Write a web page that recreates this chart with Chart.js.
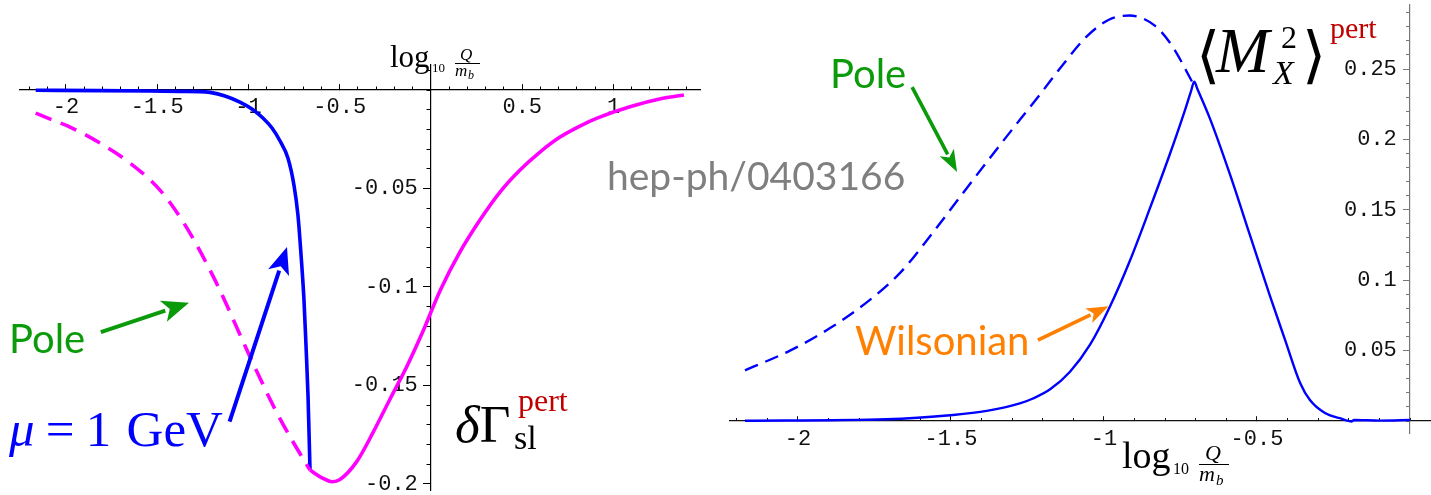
<!DOCTYPE html>
<html><head><meta charset="utf-8">
<script src="https://cdn.jsdelivr.net/npm/chart.js@4.4.1/dist/chart.umd.min.js"></script>
<style>
html,body{margin:0;padding:0;background:#fff;width:1431px;height:495px;overflow:hidden;position:relative}
#lw{position:absolute;left:0;top:0;width:715px;height:495px}
#rw{position:absolute;left:715px;top:0;width:716px;height:495px}
.lab{position:absolute;white-space:nowrap;line-height:1;margin:0;padding:0}
.bl{display:inline-block;width:0;height:0}
.bar{position:absolute;height:0;border-top:1.4px solid #000}
</style></head>
<body>
<div id="lw"><canvas id="cl" width="715" height="495"></canvas></div>
<div id="rw"><canvas id="cr" width="716" height="495"></canvas></div>
<script>
// ---------- data: left panel (delta Gamma_sl^pert vs log10 Q/m_b) ----------
const leftMuX = [-2.166, -1.814, -1.540, -1.375, -1.266, -1.211, -1.129, -1.047, -0.981, -0.921, -0.871, -0.827, -0.784, -0.751, -0.729, -0.712, -0.696, -0.685, -0.674, -0.668, -0.663];
const leftMuY = [-0.00015, -0.0003, -0.0005, -0.0007, -0.0008, -0.0012, -0.003, -0.0061, -0.0096, -0.0142, -0.0193, -0.0259, -0.0345, -0.0482, -0.0635, -0.0838, -0.1066, -0.1294, -0.1548, -0.1751, -0.1929];
const leftPoleX = [-2.166, -2.086, -1.978, -1.814, -1.649, -1.485, -1.348, -1.184, -0.992, -0.855, -0.762, -0.663];
const leftPoleY = [-0.0117, -0.0148, -0.0188, -0.0269, -0.0371, -0.0508, -0.0685, -0.0964, -0.1354, -0.162, -0.1777, -0.193];
const leftTailX = [-0.663, -0.600, -0.540, -0.499, -0.407, -0.318, -0.225, -0.133, -0.044, 0.049, 0.159, 0.268, 0.378, 0.488, 0.597, 0.707, 0.816, 0.910, 1.090, 1.271, 1.386];
const leftTailY = [-0.193, -0.1968, -0.1989, -0.1978, -0.1887, -0.174, -0.157, -0.1405, -0.1225, -0.1020, -0.0822, -0.0660, -0.0518, -0.0406, -0.0315, -0.0239, -0.0183, -0.0143, -0.0085, -0.0042, -0.0025];
const leftXTicks = [-2, -1.5, -1, -0.5, 0.5, 1];
const leftYTicks = [-0.05, -0.1, -0.15, -0.2];

// ---------- data: right panel (<M_X^2>^pert vs log10 Q/m_b) ----------
const rightPoleX = [-2.173, -2.026, -1.895, -1.765, -1.667, -1.569, -1.471, -1.340, -1.271, -1.209, -1.131, -1.057, -0.984, -0.917, -0.835, -0.776, -0.712];
const rightPoleY = [0.036, 0.050, 0.066, 0.086, 0.105, 0.131, 0.159, 0.196, 0.215, 0.232, 0.254, 0.273, 0.285, 0.288, 0.281, 0.266, 0.241];
const rightWilX = [-2.173, -1.711, -1.493, -1.383, -1.275, -1.232, -1.176, -1.111, -1.046, -0.980, -0.915, -0.850, -0.784, -0.735, -0.716, -0.705, -0.695, -0.654, -0.588, -0.523, -0.458, -0.408, -0.359, -0.327, -0.278, -0.229, -0.190, -0.183, -0.098, 0];
const rightWilY = [0.0002, 0.0012, 0.0043, 0.0072, 0.0125, 0.0160, 0.0225, 0.035, 0.054, 0.0815, 0.114, 0.151, 0.190, 0.221, 0.234, 0.241, 0.236, 0.215, 0.175, 0.132, 0.089, 0.0575, 0.027, 0.0149, 0.0057, 0.002, -0.0003, 0.0007, 0.0003, 0.0007];
const rightXTicks = [-2, -1.5, -1, -0.5];
const rightYTicks = [0.05, 0.1, 0.15, 0.2, 0.25];

// minor tick positions (every 0.1 on x, every 0.01 on y)
function steps(a, b, n) { const out = []; for (let i = a; i <= b; i++) out.push(i / n); return out; }
const leftXMinor = steps(-22, 14, 10);
const leftYMinor = steps(-20, 1, 100);
const rightXMinor = steps(-22, 0, 10);
const rightYMinor = steps(0, 29, 100);

const pts = (xs, ys) => xs.map((x, i) => ({x, y: ys[i]}));
const fmtX = v => String(Math.round(v * 100) / 100);
const fmtY = v => String(Math.round(v * 100) / 100) + ' ';
const tickFont = {family: '"Liberation Mono","DejaVu Sans Mono",monospace', size: 22};
const zeroPad = s => { s.paddingLeft = 0; s.paddingRight = 0; s.paddingTop = 0; s.paddingBottom = 0; };
const setTicks = arr => s => { s.ticks = arr.map(v => ({value: v})); };

function scale(min, max, pos, ticks, major, len, pad, axisColor, labels, fmt) {
  return {
    type: 'linear', min, max, position: pos,
    border: {display: major, color: axisColor, width: 1.2},
    grid: {display: true, drawOnChartArea: false, drawTicks: true, tickLength: len, color: axisColor, lineWidth: 1},
    ticks: {display: labels, autoSkip: false, maxRotation: 0, minRotation: 0, padding: pad, font: tickFont, color: '#111', callback: fmt || fmtX, maxTicksLimit: 1000},
    afterBuildTicks: setTicks(ticks), afterFit: zeroPad
  };
}

const arrowPlugin = {
  id: 'arrows',
  afterDatasetsDraw(chart, args, opts) {
    const {ctx} = chart; const sx = chart.scales.x, sy = chart.scales.y;
    (opts.list || []).forEach(a => {
      const x1 = sx.getPixelForValue(a.from[0]), y1 = sy.getPixelForValue(a.from[1]);
      const x2 = sx.getPixelForValue(a.to[0]), y2 = sy.getPixelForValue(a.to[1]);
      const ang = Math.atan2(y2 - y1, x2 - x1), c = Math.cos(ang), s = Math.sin(ang);
      const bx = x2 - a.head * c, by = y2 - a.head * s;
      ctx.save();
      ctx.strokeStyle = a.color; ctx.fillStyle = a.color; ctx.lineWidth = a.width; ctx.lineCap = 'butt';
      ctx.beginPath(); ctx.moveTo(x1, y1); ctx.lineTo(bx + 2 * c, by + 2 * s); ctx.stroke();
      ctx.beginPath(); ctx.moveTo(x2, y2);
      ctx.lineTo(bx - a.hw * s, by + a.hw * c);
      ctx.lineTo(bx + 0.25 * a.head * c, by + 0.25 * a.head * s);
      ctx.lineTo(bx + a.hw * s, by - a.hw * c);
      ctx.closePath(); ctx.fill();
      ctx.restore();
    });
  }
};

const common = {responsive: false, maintainAspectRatio: false, animation: false, events: []};

new Chart(document.getElementById('cl'), {
  type: 'line',
  data: {datasets: [
    {label: 'Pole', data: pts(leftPoleX, leftPoleY), borderColor: '#ff00ff', borderWidth: 3.6, borderDash: [17, 10], pointRadius: 0, cubicInterpolationMode: 'monotone', fill: false},
    {label: 'low-Q tail', data: pts(leftTailX, leftTailY), borderColor: '#ff00ff', borderWidth: 3.6, pointRadius: 0, cubicInterpolationMode: 'monotone', fill: false},
    {label: 'mu = 1 GeV', data: pts(leftMuX, leftMuY), borderColor: '#0000ff', borderWidth: 3.6, pointRadius: 0, cubicInterpolationMode: 'monotone', fill: false}
  ]},
  options: Object.assign({}, common, {
    layout: {padding: {left: 20, right: 15, top: 65, bottom: 5}},
    scales: {
      x: scale(-2.252, 1.474, {y: 0}, leftXTicks, true, -6, 10, '#000', true),
      xm: scale(-2.252, 1.474, {y: 0}, leftXMinor, false, -3.5, 0, '#000', false),
      y: scale(-0.2031, 0.0127, {x: 0}, leftYTicks, true, 7, 10, '#000', true, fmtY),
      ym: scale(-0.2031, 0.0127, {x: 0}, leftYMinor, false, 4.5, 0, '#000', false)
    },
    plugins: {legend: {display: false}, tooltip: {enabled: false},
      arrows: {list: [
        {from: [-1.809, -0.1229], to: [-1.326, -0.108], color: '#0a9a0a', width: 4, head: 27, hw: 11},
        {from: [-1.1036, -0.1684], to: [-0.789, -0.0797], color: '#0000ff', width: 4, head: 27, hw: 11}
      ]}}
  }),
  plugins: [arrowPlugin]
});

new Chart(document.getElementById('cr'), {
  type: 'line',
  data: {datasets: [
    {label: 'Pole', data: pts(rightPoleX, rightPoleY), borderColor: '#0000ff', borderWidth: 2.4, borderDash: [14, 8], pointRadius: 0, cubicInterpolationMode: 'monotone', fill: false},
    {label: 'Wilsonian', data: pts(rightWilX, rightWilY), borderColor: '#0000ff', borderWidth: 2.4, pointRadius: 0, cubicInterpolationMode: 'monotone', fill: false}
  ]},
  options: Object.assign({}, common, {
    layout: {padding: {left: 15, right: 0, top: 5, bottom: 62}},
    scales: {
      x: scale(-2.222, 0.0686, {y: 0}, rightXTicks, true, -5, 10, '#111', true),
      xm: scale(-2.222, 0.0686, {y: 0}, rightXMinor, false, -3, 0, '#111', false),
      y: scale(-0.00852, 0.2955, {x: 0}, rightYTicks, true, 6, 10, '#777', true, fmtY),
      ym: scale(-0.00852, 0.2955, {x: 0}, rightYMinor, false, 4, 0, '#777', false)
    },
    plugins: {legend: {display: false}, tooltip: {enabled: false},
      arrows: {list: [
        {from: [-1.627, 0.2372], to: [-1.480, 0.1769], color: '#0a9a0a', width: 3.6, head: 22, hw: 8},
        {from: [-1.216, 0.0575], to: [-0.985, 0.0815], color: '#ff8000', width: 3.6, head: 22, hw: 8}
      ]}}
  }),
  plugins: [arrowPlugin]
});

// ---------- text labels ----------
const SERIF = '"Liberation Serif","DejaVu Serif",serif';
const SANS = 'Lato,"Noto Sans",sans-serif';
function label(html, x, base, size, family, color, extra) {
  const d = document.createElement('div');
  d.className = 'lab';
  d.style.cssText = 'left:' + x + 'px;font-size:' + size + 'px;font-family:' + family + ';color:' + color + ';' + (extra || '');
  d.innerHTML = html + '<span class="bl"></span>';
  document.body.appendChild(d);
  const off = d.querySelector('.bl').offsetTop;
  d.style.top = (base - off) + 'px';
}
function bar(x1, x2, y) {
  const d = document.createElement('div'); d.className = 'bar';
  d.style.left = x1 + 'px'; d.style.width = (x2 - x1) + 'px'; d.style.top = y + 'px';
  document.body.appendChild(d);
}
// left panel
label('log', 390, 67, 31, SERIF, '#000');
label('10', 432, 72, 13, SERIF, '#000');
label('Q', 460, 60, 17, SERIF, '#000', 'font-style:italic');
bar(455, 480, 63);
label('m', 455, 76, 17, SERIF, '#000', 'font-style:italic');
label('b', 468, 79, 12, SERIF, '#000', 'font-style:italic');
label('Pole', 9, 353, 40, SANS, '#0a9a0a');
label('<i>μ</i><span style="margin:0 0.22em">=</span>1<span style="margin-left:0.3em">GeV</span>', 9, 446, 51, SERIF, '#0000ff');
label('<i>δ</i>Γ', 455, 442, 53, SERIF, '#000');
label('sl', 514, 449, 34, SERIF, '#000');
label('pert', 518, 411, 32, SERIF, '#c00000');
// watermark
label('hep-ph/0403166', 607, 190, 39, SANS, '#7f7f7f');
// right panel
label('Pole', 830, 88, 40, SANS, '#0a9a0a');
label('Wilsonian', 855, 355, 40, SANS, '#ff8000');
label('⟨', 1196, 76, 62, SERIF, '#000');
label('M', 1216, 72, 64, SERIF, '#000', 'font-style:italic');
label('2', 1281, 48, 32, SERIF, '#000');
label('X', 1273, 84, 34, SERIF, '#000', 'font-style:italic');
label('⟩', 1302, 76, 62, SERIF, '#000');
label('pert', 1330, 38, 30, SERIF, '#c00000');
label('log', 1122, 468, 38, SERIF, '#000');
label('10', 1173, 474, 16, SERIF, '#000');
label('Q', 1205, 460, 22, SERIF, '#000', 'font-style:italic');
bar(1199, 1229, 464);
label('m', 1199, 481, 22, SERIF, '#000', 'font-style:italic');
label('b', 1216, 485, 15, SERIF, '#000', 'font-style:italic');
</script>
</body></html>
